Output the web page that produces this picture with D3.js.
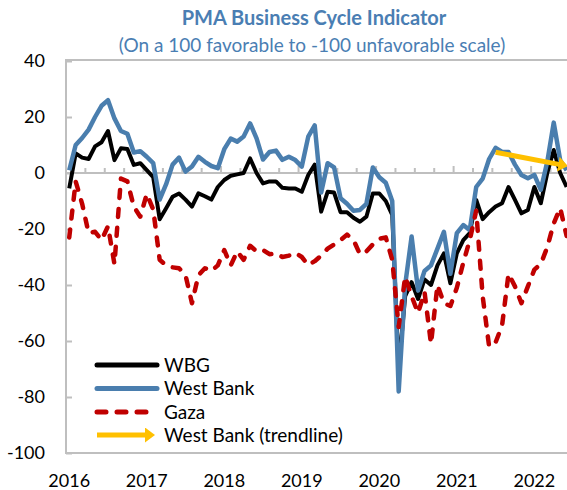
<!DOCTYPE html>
<html><head><meta charset="utf-8">
<script src="https://cdn.jsdelivr.net/npm/d3@7"></script>
<style>body{margin:0;background:#fff} svg{display:block}</style>
</head><body>
<svg id="c" width="567" height="490"></svg>
<script>
// Monthly data, Jan 2016 (index 0) .. Jun 2022 (index 77)
const wbg = [-5.5,7,5.5,5,9.5,11,15,4.6,8.8,8.6,2.9,3.5,1,-1.5,-16.5,-12.6,-8.5,-7.3,-9.5,-12,
  -7.3,-8.3,-9.5,-5,-2.5,-1,-0.5,0,5.2,0,-3.7,-3,-3,-5.3,-5.5,-5.5,-6.7,-0.7,3,-13.8,
  -6.7,-7,-14,-14,-16,-17.4,-15.6,-7.3,-7.3,-10,-15,-70,-44,-39,-45,-38,-40,-33,-28.7,-39.4,
  -28.7,-24,-21.5,-9.6,-16.5,-14,-12,-10.8,-5,-9.6,-14.4,-13.2,-5,-10.8,0,8.2,0,-5];
const westBank = [1,10,12.5,15.5,20,24,26,19.5,15,14,7.3,7.8,5.8,3.5,-9.5,-4,3,5.5,0.5,2.3,
  5.8,4,2.5,1.7,8.5,12.3,11.2,13,17.7,12.4,4.8,7.5,8,4.7,5.8,4.6,2.3,13,17,-7,
  3.5,2,-9,-11,-13.5,-13.2,-11,2,-1.5,-3.5,-10,-78,-40,-22.7,-42,-35,-33,-27,-21,-36,
  -21.5,-18.6,-20.4,-5,-2,5,9,7.5,7.5,3,-0.7,-1.9,-0.7,-6,4,18,4.6,1];
const gaza = [-23,-3,-11,-21.5,-21,-24,-19,-32.5,-2,-3,-12,-15.6,-7.5,-13,-31,-33,-33.7,-34,-36.5,-46.5,
  -36.5,-34,-35,-33,-27.5,-33,-28,-31,-26,-28,-27.5,-29,-28.7,-30,-29.5,-28.5,-30,-32.9,-31.5,-29.5,
  -27,-25.5,-24,-22,-23.9,-29,-28,-25.5,-23.5,-23,-31,-55,-37,-44,-50,-42.5,-61,-40,-46.5,-47.5,
  -41,-32,-24,-13.5,-44,-62,-60.5,-54.5,-36,-40.5,-46.5,-40.5,-34.5,-32.5,-26.5,-18,-12.5,-22.5];
const trendMonths = [66, 76];
const trendValues = [7.4, 3.0];
const yearLabels = ["2016","2017","2018","2019","2020","2021","2022"];
const yearMonths = [0, 12, 24, 36, 48, 60, 72];
const yTicks = [40, 20, 0, -20, -40, -60, -80, -100];
const seriesNames = ["WBG", "West Bank", "Gaza", "West Bank (trendline)"];
const title = "PMA Business Cycle Indicator";
const subtitle = "(On a 100 favorable to -100 unfavorable scale)";

(function draw() {
const FONT = "Lato, 'Open Sans', sans-serif";
const C = {wbg:"#000000", wb:"#4a7eae", gaza:"#c00000", trend:"#ffc000", axis:"#bfbfbf", title:"#4a7eb3"};

const svg = d3.select("#c");
const pLeft = 66, pTop = 60, pBottom = 453, cw = 6.46;
const x = d3.scaleLinear().domain([-0.5, 77.5]).range([pLeft, pLeft + 78 * cw]);
const y = d3.scaleLinear().domain([-100, 40]).range([pBottom, 61]);
const pRight = x(77.5);

const defs = svg.append("defs");
defs.append("clipPath").attr("id","clip")
  .append("rect").attr("x", pLeft).attr("y", pTop).attr("width", pRight-pLeft).attr("height", pBottom-pTop);
const mk = defs.append("marker").attr("id","arrow")
  .attr("viewBox","0 0 10 15").attr("markerUnits","userSpaceOnUse")
  .attr("markerWidth",10).attr("markerHeight",15).attr("refX",2).attr("refY",7.5).attr("orient","auto");
mk.append("path").attr("d","M0,0 L10,7.5 L0,15 Z").attr("fill",C.trend);

// Titles
svg.append("text").attr("x", 314).attr("y", 25).attr("text-anchor","middle")
  .attr("font-family", FONT).attr("font-weight","bold").attr("font-size",20).attr("fill",C.title).text(title);
svg.append("text").attr("x", 312).attr("y", 52).attr("text-anchor","middle")
  .attr("font-family", FONT).attr("font-size",19).attr("fill",C.title).text(subtitle);

// Plot frame
svg.append("rect").attr("x", pLeft).attr("y", pTop).attr("width", pRight-pLeft).attr("height", pBottom-pTop)
  .attr("fill","none").attr("stroke",C.axis).attr("stroke-width",2);

// Y axis (ticks inside)
const yAxis = d3.axisRight(y).tickValues(yTicks).tickSize(6).tickFormat("");
const gy = svg.append("g").attr("transform",`translate(${pLeft},0)`).call(yAxis);
gy.select(".domain").remove();
gy.selectAll("line").attr("stroke",C.axis).attr("stroke-width",2);
svg.append("g").selectAll("text").data(yTicks).join("text")
  .attr("x", 45).attr("y", d => y(d) + 6).attr("text-anchor","end")
  .attr("font-family", FONT).attr("font-size",18).attr("fill","#000").text(d => d);

// X axis at zero
const gx = svg.append("g");
gx.append("line").attr("x1",pLeft).attr("x2",pRight).attr("y1",y(0)).attr("y2",y(0))
  .attr("stroke",C.axis).attr("stroke-width",2);
const tickIdx = d3.range(0, 78, 3);
gx.selectAll("line.t").data(tickIdx).join("line").attr("class","t")
  .attr("x1", d => x(d-0.5)).attr("x2", d => x(d-0.5))
  .attr("y1", y(0)).attr("y2", d => y(0) - (d % 12 === 0 ? 7 : 5))
  .attr("stroke",C.axis).attr("stroke-width",2);
svg.append("g").selectAll("text").data(yearMonths).join("text")
  .attr("x", d => x(d)).attr("y", 487).attr("text-anchor","middle")
  .attr("font-family", FONT).attr("font-size",18).attr("fill","#000")
  .text((d,i) => yearLabels[i]);

// Series
const plot = svg.append("g").attr("clip-path","url(#clip)");
const line = d3.line().x((d,i) => x(i)).y(d => y(d));
plot.append("path").datum(wbg).attr("d", line).attr("fill","none")
  .attr("stroke",C.wbg).attr("stroke-width",4).attr("stroke-linejoin","round");
plot.append("path").datum(westBank).attr("d", line).attr("fill","none")
  .attr("stroke",C.wb).attr("stroke-width",4.5).attr("stroke-linejoin","round");
plot.append("path").datum(gaza).attr("d", line).attr("fill","none")
  .attr("stroke",C.gaza).attr("stroke-width",4.5).attr("stroke-dasharray","8,11")
  .attr("stroke-linecap","round").attr("stroke-linejoin","round");
const tline = d3.line().x(d => x(d[0])).y(d => y(d[1]));
svg.append("path").datum(trendMonths.map((m,i) => [m, trendValues[i]])).attr("d", tline)
  .attr("fill","none").attr("stroke",C.trend).attr("stroke-width",5).attr("marker-end","url(#arrow)");

// Legend
const lg = svg.append("g");
const rows = [365, 388.5, 412, 435];
const styles = [
  {c:C.wbg, w:5, dash:null},
  {c:C.wb, w:5, dash:null},
  {c:C.gaza, w:5, dash:"9,11"},
  {c:C.trend, w:5, dash:null, arrow:true}];
seriesNames.forEach((name, i) => {
  const s = styles[i];
  const l = lg.append("line").attr("x1", 97).attr("x2", s.arrow ? 147 : 157)
    .attr("y1", rows[i]).attr("y2", rows[i]).attr("stroke", s.c).attr("stroke-width", s.w)
    .attr("stroke-linecap", s.arrow ? "butt" : "round");
  if (s.dash) l.attr("stroke-dasharray", s.dash);
  if (s.arrow) l.attr("marker-end","url(#arrow)");
  lg.append("text").attr("x", 164).attr("y", rows[i] + 6.5)
    .attr("font-family", FONT).attr("font-size",19).attr("fill","#000").text(name);
});
})();
</script>
</body></html>
